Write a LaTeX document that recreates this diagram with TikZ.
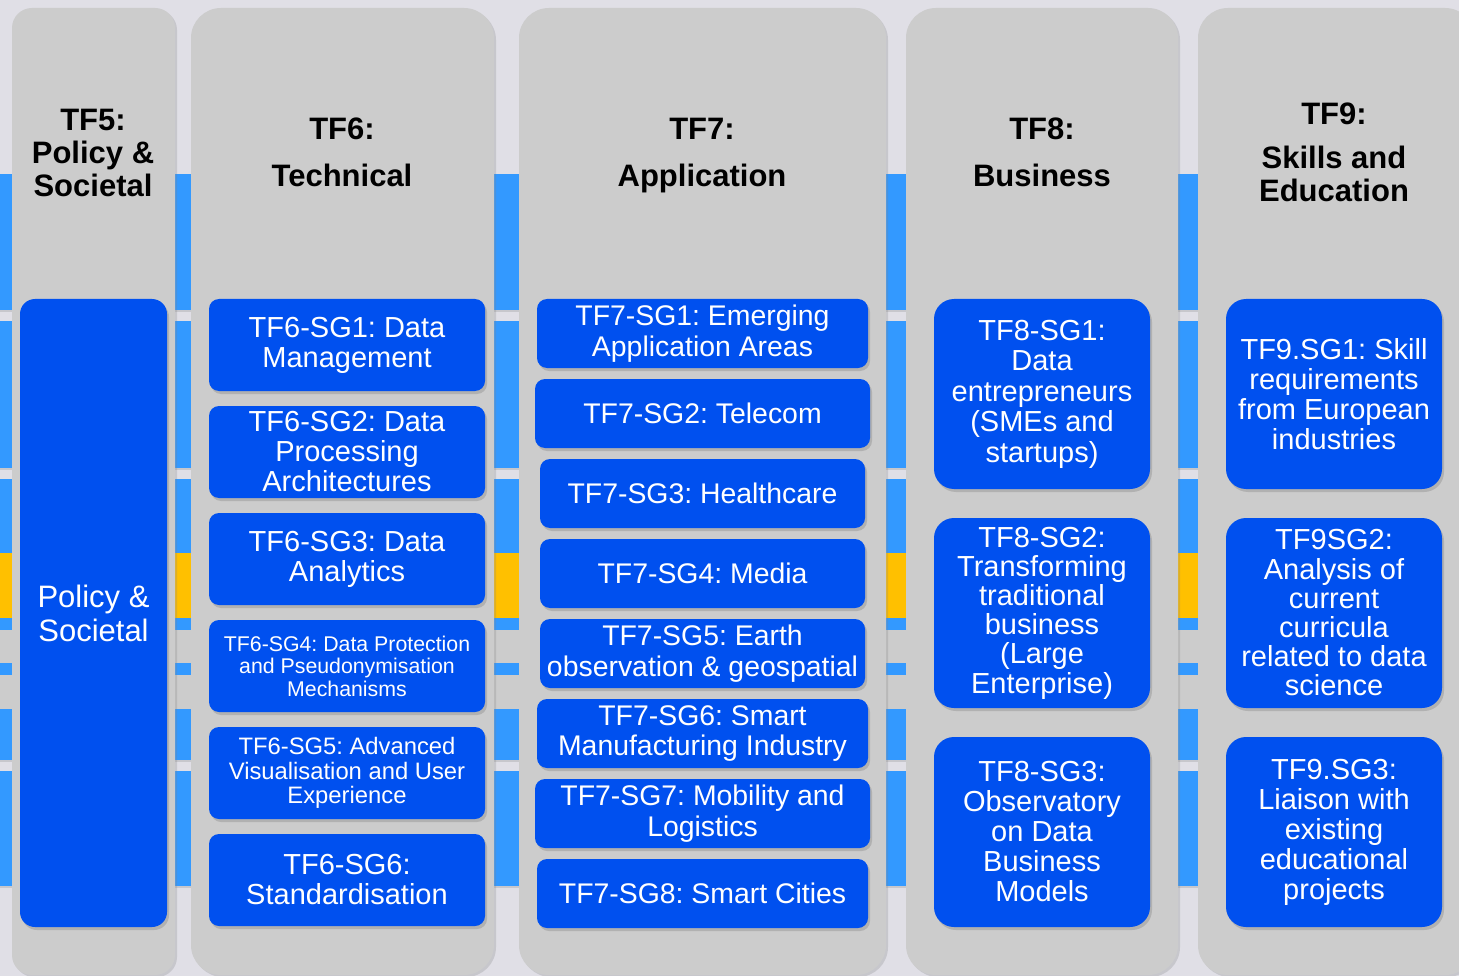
\documentclass[tikz,border=0pt]{standalone}
\usepackage{fontspec}
\setmainfont{Liberation Sans}
\usetikzlibrary{positioning,shadows}
\definecolor{bgback}{RGB}{224,223,230}
\definecolor{lanegray}{RGB}{204,204,204}
\definecolor{stripeblue}{RGB}{51,153,255}
\definecolor{stripegold}{RGB}{255,192,0}
\definecolor{sgblue}{RGB}{0,80,239}
\frenchspacing
\tikzset{
    %Define style for task force columns
    lane/.style={
           rectangle,
           rounded corners=30pt,
           fill=lanegray,
           inner sep=0pt,
           drop shadow={opacity=0.25, shadow xshift=2pt, shadow yshift=-2pt}},
    %Define style for column headers
    head/.style={
           align=center,
           font=\bfseries\fontsize{31}{33}\selectfont},
    %Define style for subgroup boxes
    sub/.style={
           rectangle,
           rounded corners=10pt,
           fill=sgblue,
           text=white,
           inner sep=0pt,
           outer sep=0pt,
           align=center,
           font=\fontsize{29}{30}\selectfont,
           drop shadow={opacity=0.35, shadow xshift=2pt, shadow yshift=-3pt}},
    % Define style for the narrow application boxes
    appl/.style={
           sub,
           minimum height=69pt,
           font=\fontsize{28.4}{30.5}\selectfont},
    % Define style for background bands
    band/.style={
           drop shadow={opacity=0.25, shadow xshift=0pt, shadow yshift=-2pt}},
}

\begin{document}
\begin{tikzpicture}[x=1pt, y=-1pt, node distance=15pt]
 \useasboundingbox (0,0) rectangle (1459,976);
 %background
 \fill[bgback] (0,0) rectangle (1459,976);
 \fill[stripeblue, band] (0,174) rectangle (1459,310);
 \fill[stripeblue, band] (0,321) rectangle (1459,468);
 \fill[stripeblue, band] (0,479) rectangle (1459,553);
 \fill[stripegold] (0,553) rectangle (1459,618);
 \fill[stripeblue, band] (0,618) rectangle (1459,630);
 \fill[lanegray] (0,630) rectangle (1459,663);
 \fill[stripeblue, band] (0,663) rectangle (1459,675);
 \fill[lanegray] (0,675) rectangle (1459,709);
 \fill[stripeblue, band] (0,709) rectangle (1459,760);
 \fill[stripeblue, band] (0,771) rectangle (1459,886);
 %columns
 \node[lane, rounded corners=20pt, minimum width=163pt, minimum height=967pt] (col5) at (93.5,491.5) {};
 \node[lane, minimum width=303pt, minimum height=967pt] (col6) at (342.5,491.5) {};
 \node[lane, minimum width=367pt, minimum height=967pt] (col7) at (702.5,491.5) {};
 \node[lane, minimum width=272pt, minimum height=967pt] (col8) at (1042,491.5) {};
 \node[lane, minimum width=277pt, minimum height=967pt] (col9) at (1336.5,491.5) {};
 %headers
 \node[head] (h5) at (93,153) {TF5:\\Policy \&\\Societal};
 \node[head] (h6) at (342,152) {TF6:\\[14pt]Technical};
 \node[head] (h7) at (702,156) {TF7:\\[14pt]Application};
 \node[head] (h8) at (1042,152) {TF8:\\[14pt]Business};
 \node[head] (h9) at (1334,152) {TF9:\\[11pt]Skills and\\Education};
 %TF5
 \node[sub, rounded corners=15pt, minimum width=147pt, minimum height=628pt,
       font=\fontsize{31}{34}\selectfont] (pol) at (93.5,613) {Policy \&\\Societal};
 %TF6
 \node[sub, minimum width=276pt, minimum height=92pt] (sg61) at (347,345) {TF6-SG1: Data\\Management};
 \node[sub, minimum width=276pt, minimum height=92pt, below=of sg61] (sg62) {TF6-SG2: Data\\Processing\\Architectures};
 \node[sub, minimum width=276pt, minimum height=92pt, below=of sg62] (sg63) {TF6-SG3: Data\\Analytics};
 \node[sub, minimum width=276pt, minimum height=92pt, below=of sg63,
       font=\fontsize{21.3}{22.5}\selectfont] (sg64) {TF6-SG4: Data Protection\\and Pseudonymisation\\Mechanisms};
 \node[sub, minimum width=276pt, minimum height=92pt, below=of sg64,
       font=\fontsize{23.8}{24.5}\selectfont] (sg65) {TF6-SG5: Advanced\\Visualisation and User\\Experience};
 \node[sub, minimum width=276pt, minimum height=92pt, below=of sg65] (sg66) {TF6-SG6:\\Standardisation};
 %TF7
 \node[appl, minimum width=331pt] (sg71) at (702.5,333.5) {TF7-SG1: Emerging\\Application Areas};
 \node[appl, minimum width=335pt, below=11pt of sg71] (sg72) {TF7-SG2: Telecom};
 \node[appl, minimum width=325pt, below=11pt of sg72] (sg73) {TF7-SG3: Healthcare};
 \node[appl, minimum width=325pt, below=11pt of sg73] (sg74) {TF7-SG4: Media};
 \node[appl, minimum width=325pt, below=11pt of sg74] (sg75) {TF7-SG5: Earth\\observation \& geospatial};
 \node[appl, minimum width=331pt, below=11pt of sg75] (sg76) {TF7-SG6: Smart\\Manufacturing Industry};
 \node[appl, minimum width=335pt, below=11pt of sg76] (sg77) {TF7-SG7: Mobility and\\Logistics};
 \node[appl, minimum width=331pt, below=11pt of sg77] (sg78) {TF7-SG8: Smart Cities};
 %TF8
 \node[sub, rounded corners=20pt, minimum width=216pt, minimum height=190pt,
       font=\fontsize{29}{30.5}\selectfont] (sg81) at (1042,394) {TF8-SG1:\\Data\\entrepreneurs\\(SMEs and\\startups)};
 \node[sub, rounded corners=20pt, minimum width=216pt, minimum height=190pt, below=29pt of sg81,
       font=\fontsize{29}{29.2}\selectfont] (sg82) {TF8-SG2:\\Transforming\\traditional\\business\\(Large\\Enterprise)};
 \node[sub, rounded corners=20pt, minimum width=216pt, minimum height=190pt, below=29pt of sg82] (sg83) {TF8-SG3:\\Observatory\\on Data\\Business\\Models};
 %TF9
 \node[sub, rounded corners=20pt, minimum width=216pt, minimum height=190pt] (sg91) at (1334,394) {TF9.SG1: Skill\\requirements\\from European\\industries};
 \node[sub, rounded corners=20pt, minimum width=216pt, minimum height=190pt, below=29pt of sg91,
       font=\fontsize{29}{29.2}\selectfont] (sg92) {TF9SG2:\\Analysis of\\current\\curricula\\related to data\\science};
 \node[sub, rounded corners=20pt, minimum width=216pt, minimum height=190pt, below=29pt of sg92] (sg93) {TF9.SG3:\\Liaison with\\existing\\educational\\projects};
\end{tikzpicture}
\end{document}
